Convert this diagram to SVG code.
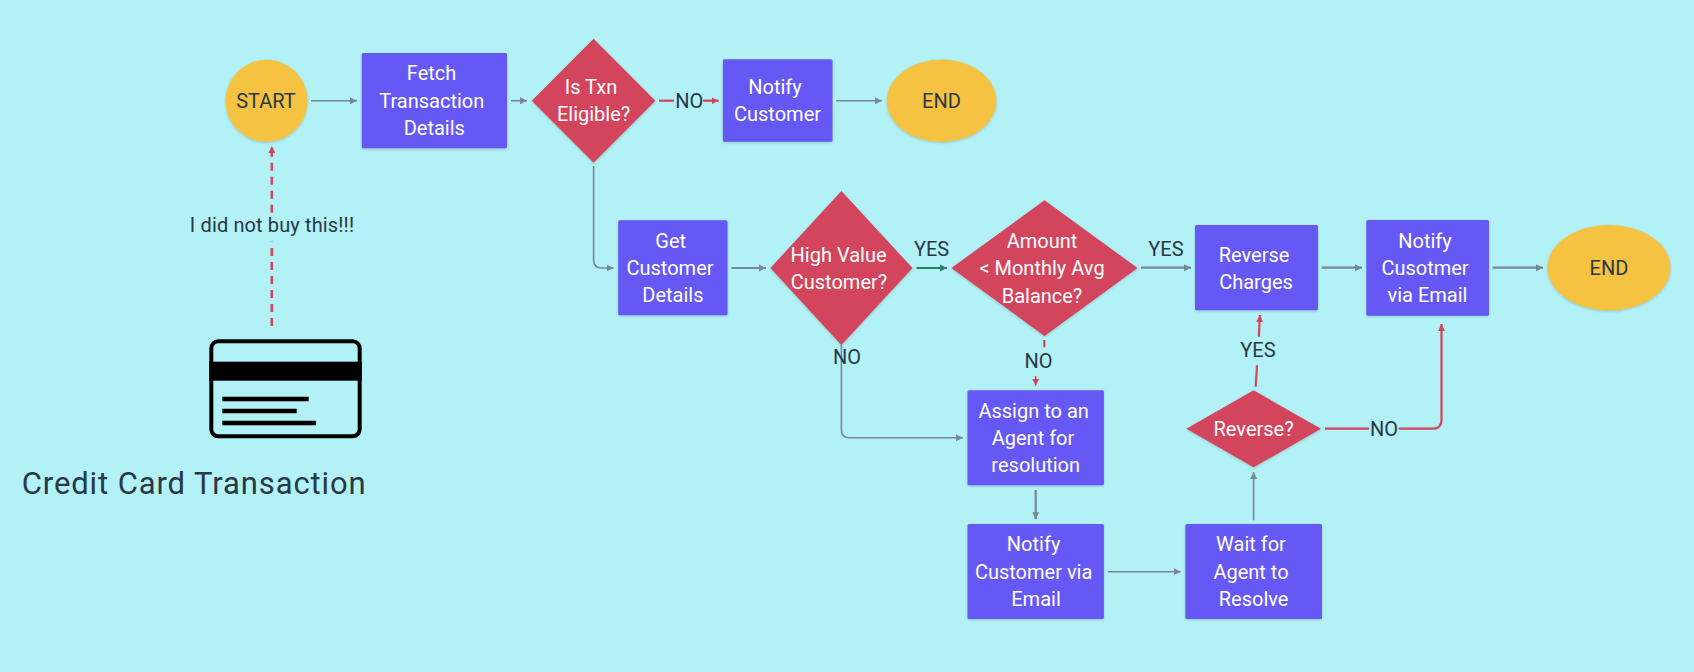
<svg xmlns="http://www.w3.org/2000/svg" width="1694" height="672" viewBox="0 0 1694 672">
<style>
text{font-family:Roboto,"Liberation Sans",sans-serif;font-size:20px;text-anchor:middle}
.w{fill:#fff}
.d{fill:#293845}
.box{fill:#6558f5;filter:url(#sh)}
.dia{fill:#d3455b;filter:url(#sh)}
.oval{fill:#f5c242;filter:url(#sh)}
.c{fill:none;stroke-width:1.6;stroke-linejoin:round}
.g{stroke:#788896;marker-end:url(#ag)}
.g0{stroke:#788896}
.r{stroke:#d3455b;marker-end:url(#ar)}
.r0{stroke:#d3455b}
.t{stroke:#2b7d6b;stroke-width:2;marker-end:url(#at)}
.th{stroke-width:2.2}
.da{stroke-width:2.6;stroke-dasharray:8,6}
</style>
<defs>
<filter id="sh" x="-10%" y="-10%" width="120%" height="120%"><feDropShadow dx="0" dy="1" stdDeviation="1" flood-color="#293845" flood-opacity="0.25"/></filter>
<marker id="ag" markerUnits="userSpaceOnUse" markerWidth="9" markerHeight="9" refX="7" refY="4.5" orient="auto"><path d="M0,1 L7,4.5 L0,8 Z" fill="#788896"/></marker>
<marker id="ar" markerUnits="userSpaceOnUse" markerWidth="9" markerHeight="9" refX="7" refY="4.5" orient="auto"><path d="M0,1 L7,4.5 L0,8 Z" fill="#d3455b"/></marker>
<marker id="at" markerUnits="userSpaceOnUse" markerWidth="9" markerHeight="9" refX="7" refY="4.5" orient="auto"><path d="M0,1 L7,4.5 L0,8 Z" fill="#2b7d6b"/></marker>
</defs>
<rect width="1694" height="672" fill="#b2f1f5"/>
<g id="connectors">
<path class="c g" d="M311,100.7H357"/>
<path class="c g" d="M511,100.7H527"/>
<path class="c r0 th" d="M659,100.7H674"/>
<path class="c r th" d="M703,100.7H718.6"/>
<text class="d" x="689.3" y="107.7">NO</text>
<path class="c g" d="M836,100.7H882"/>
<path class="c g" d="M593.6,166V260Q593.6,268 601.6,268H613.6"/>
<path class="c g th" d="M731.4,268H766"/>
<path class="c t" d="M916.4,268H946.8"/>
<text class="d" x="931.6" y="255.7">YES</text>
<path class="c g th" d="M1141,267.7H1191"/>
<text class="d" x="1166" y="255.7">YES</text>
<path class="c g th" d="M1321.7,267.7H1362"/>
<path class="c g th" d="M1492.6,267.7H1543"/>
<path class="c g" d="M841.4,345V430Q841.4,437.7 849,437.7H962.9"/>
<text class="d" x="847" y="364">NO</text>
<path class="c r0 th" d="M1044.3,340V347.3"/>
<text class="d" x="1038.5" y="368.3">NO</text>
<path class="c r" d="M1035.7,376V385.7"/>
<path class="c g th" d="M1035.7,490V519.3"/>
<path class="c g" d="M1107.9,571.7H1180.7"/>
<path class="c g" d="M1253.6,520.3V472"/>
<path class="c r0 th" d="M1255.7,386.7L1257,365.3"/>
<text class="d" x="1258" y="357.3">YES</text>
<path class="c r th" d="M1258.8,336.7L1260,315"/>
<path class="c r0 th" d="M1325,428.7H1369"/>
<text class="d" x="1384" y="435.7">NO</text>
<path class="c r th" d="M1398.7,428.7H1433Q1441.5,428.7 1441.5,420V324"/>
<path class="c r0 da" d="M271.8,326V241.7"/>
<path class="c r da" d="M271.8,212.7V146"/>
<text class="d" x="272" y="232.3" style="font-size:20px;letter-spacing:.13px">I did not buy this!!!</text>
</g>
<g id="start"><circle class="oval" cx="266.6" cy="100.8" r="41"/><text class="d" x="266" y="107.7">START</text></g>
<g id="fetch"><rect class="box" x="361.8" y="53" width="145.2" height="95.3" rx="1.5"/><text class="w" x="431.6" y="80.3">Fetch</text><text class="w" x="431.8" y="108">Transaction</text><text class="w" x="434.3" y="135.3">Details</text></g>
<g id="eligible"><path class="dia" d="M593.6,38.7L655.4,100.7L593.6,162.7L531.8,100.7Z"/><text class="w" x="591" y="94">Is Txn</text><text class="w" x="593.6" y="121">Eligible?</text></g>
<g id="notify1"><rect class="box" x="722.9" y="59.3" width="109.6" height="82.4" rx="1.5"/><text class="w" x="775" y="94.3">Notify</text><text class="w" x="777.5" y="121.3">Customer</text></g>
<g id="end1"><ellipse class="oval" cx="941.6" cy="100.8" rx="54.8" ry="41.2"/><text class="d" x="941.4" y="107.7">END</text></g>
<g id="getcust"><rect class="box" x="618.2" y="220.3" width="109.3" height="95" rx="1.5"/><text class="w" x="670.7" y="247.7">Get</text><text class="w" x="670" y="275">Customer</text><text class="w" x="672.9" y="302.3">Details</text></g>
<g id="highvalue"><path class="dia" d="M841.4,191L912.5,268L841.4,345L770.4,268Z"/><text class="w" x="838.6" y="261.7">High Value</text><text class="w" x="839" y="289">Customer?</text></g>
<g id="amount"><path class="dia" d="M1044.5,200.3L1137.5,268L1044.5,336L951.4,268Z"/><text class="w" x="1042" y="248">Amount</text><text class="w" x="1042" y="275.3">&lt; Monthly Avg</text><text class="w" x="1042" y="302.7">Balance?</text></g>
<g id="reversecharges"><rect class="box" x="1195" y="225" width="123" height="85.3" rx="1.5"/><text class="w" x="1254" y="261.7">Reverse</text><text class="w" x="1256" y="289">Charges</text></g>
<g id="notifyemail"><rect class="box" x="1366.3" y="220" width="122.7" height="95.7" rx="1.5"/><text class="w" x="1425" y="247.7">Notify</text><text class="w" x="1425" y="275">Cusotmer</text><text class="w" x="1427.5" y="302.3">via Email</text></g>
<g id="end2"><ellipse class="oval" cx="1609" cy="267.7" rx="61.5" ry="42.7"/><text class="d" x="1609" y="275">END</text></g>
<g id="assign"><rect class="box" x="967.5" y="390.3" width="136.4" height="95" rx="1.5"/><text class="w" x="1033.6" y="417.7">Assign to an</text><text class="w" x="1033" y="445">Agent for</text><text class="w" x="1035.7" y="472.3">resolution</text></g>
<g id="notifyagent"><rect class="box" x="967.5" y="524" width="136.4" height="95" rx="1.5"/><text class="w" x="1033.6" y="551">Notify</text><text class="w" x="1033.6" y="578.7">Customer via</text><text class="w" x="1036" y="606">Email</text></g>
<g id="wait"><rect class="box" x="1185.4" y="524" width="136.6" height="95" rx="1.5"/><text class="w" x="1251" y="551">Wait for</text><text class="w" x="1251" y="578.7">Agent to</text><text class="w" x="1253.6" y="606">Resolve</text></g>
<g id="reverse"><path class="dia" d="M1253.6,390.3L1321,428.8L1253.6,467.3L1186.4,428.8Z"/><text class="w" x="1253.6" y="435.7">Reverse?</text></g>
<g id="card"><rect x="211.3" y="341.3" width="148.4" height="95" rx="7" fill="none" stroke="#000" stroke-width="4"/><rect x="209.3" y="361.7" width="152.4" height="19" fill="#000"/><path d="M222.3,399H308.7M222.3,411H296.7M222.3,423H316" stroke="#000" stroke-width="4.4" fill="none"/></g>
<text id="title" x="193.7" y="494.3" class="d" style="font-size:31px" textLength="344">Credit Card Transaction</text>
</svg>
